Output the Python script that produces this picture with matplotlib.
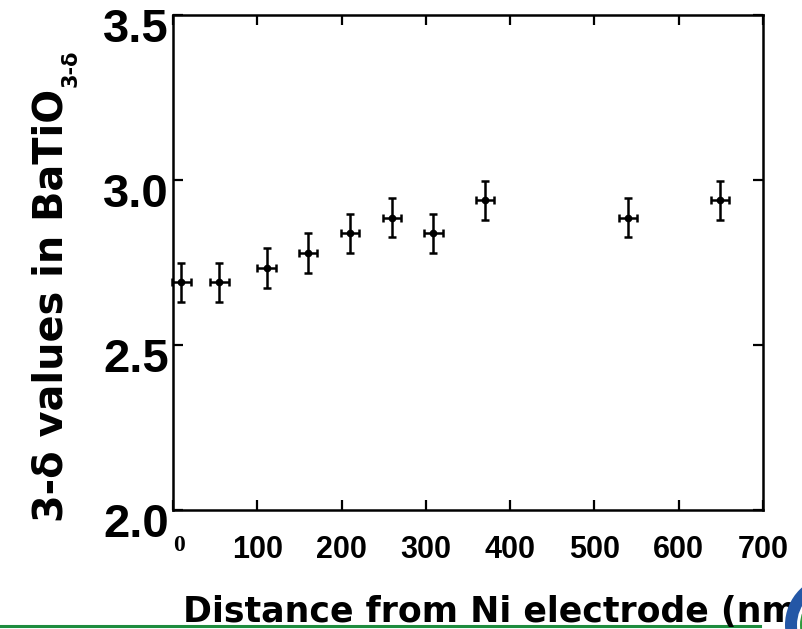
import matplotlib
matplotlib.use("Agg")
import matplotlib.pyplot as plt
from matplotlib.patches import Circle
from matplotlib.lines import Line2D
from matplotlib.transforms import ScaledTranslation

# ---- data ----
distance_nm = [10, 55, 111, 160, 210, 260, 309, 370, 540, 649]
stoich = [2.69, 2.69, 2.734, 2.778, 2.838, 2.886, 2.838, 2.938, 2.886, 2.938]
x_err = [11] * len(distance_nm)
y_err = [0.06] * len(distance_nm)
x_ticks = [0, 100, 200, 300, 400, 500, 600, 700]
x_ticklabels = ["", "100", "200", "300", "400", "500", "600", "700"]
y_ticks = [2.0, 2.5, 3.0, 3.5]
y_ticklabels = ["2.0", "2.5", "3.0", "3.5"]

W, H = 803, 629
fig = plt.figure(figsize=(W / 100, H / 100), dpi=100)
fig.patch.set_facecolor("white")
ax = fig.add_axes([173 / W, 119 / H, 590 / W, 495 / H])

ax.errorbar(distance_nm, stoich, xerr=x_err, yerr=y_err, fmt="o", ms=4.5,
            color="black", ecolor="black", elinewidth=1.8, capsize=2.6,
            capthick=1.8, clip_on=False, zorder=3)

ax.set_xlim(0, 700)
ax.set_ylim(2.0, 3.5)
ax.set_xticks(x_ticks)
ax.set_xticklabels(x_ticklabels, fontfamily="Liberation Sans",
                   fontweight="bold", fontsize=22)
ax.set_yticks(y_ticks)
ax.set_yticklabels(y_ticklabels, fontfamily="Liberation Sans",
                   fontweight="bold", fontsize=34)
for s in ax.spines.values():
    s.set_linewidth(1.8)
ax.tick_params(axis="both", direction="in", length=7.5, width=1.6,
               top=True, right=True)
ax.tick_params(axis="x", pad=18)
ax.tick_params(axis="y", pad=3)

off = ScaledTranslation(0, -10 / 100, fig.dpi_scale_trans)
for lab in ax.get_yticklabels():
    lab.set_transform(lab.get_transform() + off)

# the "0" label drawn in a serif face, as in the reference
ax.annotate("0", xy=(0, 2.0), xycoords="data", xytext=(4.5, -18),
            textcoords="offset points", ha="center", va="top",
            fontfamily="Liberation Serif", fontweight="bold", fontsize=17)

# y label with subscript
ylab = fig.text(63 / W, 107 / H, "3-δ values in BaTiO", rotation=90,
                rotation_mode="anchor", ha="left", va="baseline",
                fontfamily="DejaVu Sans", fontweight="bold", fontsize=28.7)
fig.canvas.draw()
bb = ylab.get_window_extent()
fig.text(77 / W, (bb.y1 + 2) / H, "3-δ", rotation=90, rotation_mode="anchor",
         ha="left", va="baseline", fontfamily="DejaVu Sans",
         fontweight="bold", fontsize=15)

# x label
fig.text(183 / W, 7 / H, "Distance from Ni electrode (nm)", ha="left",
         va="baseline", fontfamily="DejaVu Sans", fontweight="bold",
         fontsize=25, zorder=2)

# green rule at the bottom
fig.add_artist(Line2D([0, 760 / W], [3 / H, 3 / H], color="#1e8c3e",
                      lw=2.2, transform=fig.transFigure, zorder=1))

# logo seal (partially visible)
fig.add_artist(Circle((835, 4), 50, transform=None, facecolor="#2457a6",
                      edgecolor="none", zorder=5))
fig.add_artist(Circle((835, 4), 38, transform=None, facecolor="white",
                      edgecolor="none", zorder=6))
fig.add_artist(Circle((835, 4), 35, transform=None, facecolor="#2e9a3c",
                      edgecolor="none", zorder=7))

fig.savefig("out.png", dpi=100, facecolor="white")
